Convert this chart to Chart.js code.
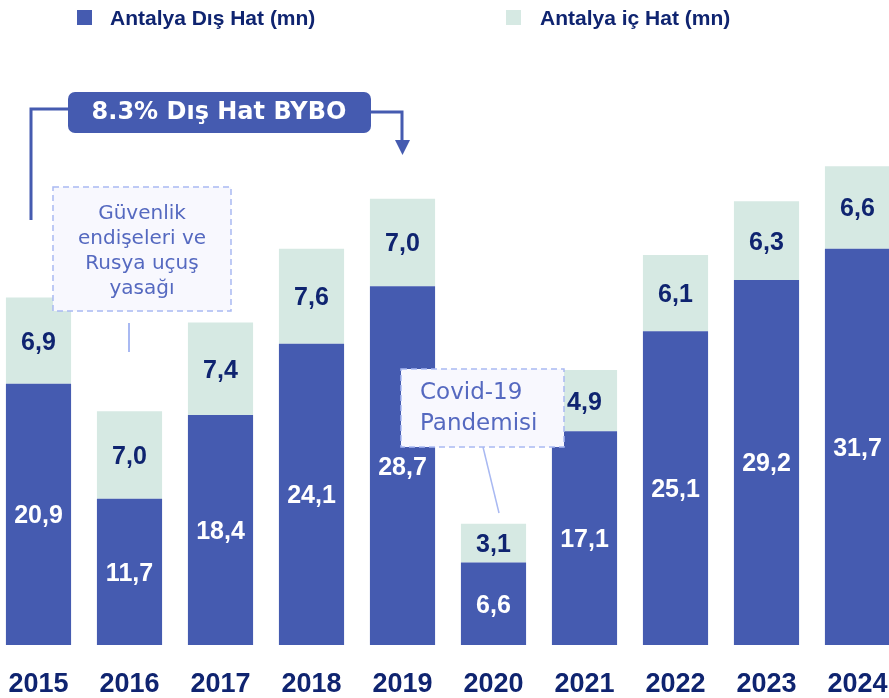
<!DOCTYPE html>
<html>
<head>
<meta charset="utf-8">
<script src="https://cdn.jsdelivr.net/npm/chart.js@4.4.1/dist/chart.umd.min.js"></script>
<style>
  html, body { margin: 0; padding: 0; background: #fff; overflow: hidden; }
  body { width: 889px; height: 698px; position: relative; }
  #chart { position: absolute; left: -7px; top: 0; }
</style>
</head>
<body>
<canvas id="chart" width="910" height="698"></canvas>
<script>
const years = ['2015', '2016', '2017', '2018', '2019', '2020', '2021', '2022', '2023', '2024'];
const disHat = [20.9, 11.7, 18.4, 24.1, 28.7, 6.6, 17.1, 25.1, 29.2, 31.7];
const icHat = [6.9, 7.0, 7.4, 7.6, 7.0, 3.1, 4.9, 6.1, 6.3, 6.6];
const legendNames = ['Antalya Dış Hat (mn)', 'Antalya iç Hat (mn)'];
const bybo = '8.3% Dış Hat BYBO';
const noteGuvenlik = ['Güvenlik', 'endişeleri ve', 'Rusya uçuş', 'yasağı'];
const noteCovid = ['Covid-19', 'Pandemisi'];

const DARK = '#455bb0';
const LIGHT = '#d6e9e3';
const NAVY = '#0f2470';
const FONT = '"DejaVu Sans", sans-serif';
const NUMFONT = '"Liberation Sans", Arial, sans-serif';

const fmt = (v) => v.toFixed(1).replace('.', ',');

// value labels centered inside each segment
const segLabels = {
    id: 'segLabels',
    afterDatasetsDraw(chart) {
        const ctx = chart.ctx;
        ctx.save();
        ctx.font = 'bold 25px ' + NUMFONT;
        ctx.textAlign = 'center';
        ctx.textBaseline = 'middle';
        chart.data.datasets.forEach((ds, di) => {
            chart.getDatasetMeta(di).data.forEach((bar, i) => {
                const mid = (bar.y + bar.base) / 2;
                ctx.fillStyle = di === 0 ? '#ffffff' : NAVY;
                ctx.fillText(fmt(ds.data[i]), bar.x, mid + 2);
            });
        });
        ctx.restore();
    }
};

function dashedBox(ctx, x, y, w, h) {
    ctx.save();
    ctx.fillStyle = '#f8f8fe';
    ctx.fillRect(x, y, w, h);
    ctx.setLineDash([6, 4]);
    ctx.strokeStyle = '#a9b9f2';
    ctx.lineWidth = 1.5;
    ctx.strokeRect(x, y, w, h);
    ctx.restore();
}

// legend, bracket and notes (page coordinates, canvas is shifted 7px left)
const extras = {
    id: 'extras',
    afterDraw(chart) {
        const ctx = chart.ctx;
        ctx.save();
        ctx.translate(7, 0);

        // legend
        ctx.font = 'bold 21px ' + NUMFONT;
        ctx.textBaseline = 'middle';
        ctx.textAlign = 'left';
        ctx.fillStyle = DARK;
        ctx.fillRect(77, 10, 15, 15);
        ctx.fillStyle = NAVY;
        ctx.fillText(legendNames[0], 110, 19);
        ctx.fillStyle = LIGHT;
        ctx.fillRect(506, 10, 15, 15);
        ctx.fillStyle = NAVY;
        ctx.fillText(legendNames[1], 540, 19);

        // bracket
        ctx.strokeStyle = DARK;
        ctx.lineWidth = 3;
        ctx.beginPath();
        ctx.moveTo(31, 220);
        ctx.lineTo(31, 109);
        ctx.lineTo(70, 109);
        ctx.stroke();
        ctx.beginPath();
        ctx.moveTo(370, 112);
        ctx.lineTo(402, 112);
        ctx.lineTo(402, 141);
        ctx.stroke();
        ctx.fillStyle = DARK;
        ctx.beginPath();
        ctx.moveTo(395, 140);
        ctx.lineTo(410, 140);
        ctx.lineTo(402.5, 155);
        ctx.closePath();
        ctx.fill();

        ctx.beginPath();
        ctx.roundRect(68, 92, 303, 41, 7);
        ctx.fill();
        ctx.fillStyle = '#ffffff';
        ctx.font = 'bold 24px ' + FONT;
        ctx.textAlign = 'center';
        ctx.fillText(bybo, 219, 113);

        // Güvenlik note
        dashedBox(ctx, 53, 187, 178, 124);
        ctx.fillStyle = '#5569c0';
        ctx.font = '20px ' + FONT;
        noteGuvenlik.forEach((t, i) => ctx.fillText(t, 142, 214 + i * 25));
        ctx.strokeStyle = '#a9b9f2';
        ctx.lineWidth = 2;
        ctx.beginPath();
        ctx.moveTo(129, 323);
        ctx.lineTo(129, 352);
        ctx.stroke();

        // Covid note
        dashedBox(ctx, 401, 369, 163, 78);
        ctx.fillStyle = '#5569c0';
        ctx.font = '23px ' + FONT;
        ctx.textAlign = 'left';
        noteCovid.forEach((t, i) => ctx.fillText(t, 420, 393 + i * 31));
        ctx.strokeStyle = '#a9b9f2';
        ctx.lineWidth = 1.5;
        ctx.beginPath();
        ctx.moveTo(483, 447);
        ctx.lineTo(499, 513);
        ctx.stroke();

        ctx.restore();
    }
};

new Chart(document.getElementById('chart'), {
    type: 'bar',
    data: {
        labels: years,
        datasets: [
            { label: legendNames[0], data: disHat, backgroundColor: DARK, borderWidth: 0 },
            { label: legendNames[1], data: icHat, backgroundColor: LIGHT, borderWidth: 0 }
        ]
    },
    options: {
        responsive: false,
        animation: false,
        datasets: { bar: { barPercentage: 0.716, categoryPercentage: 1 } },
        layout: { padding: { top: 145, bottom: 0, left: 0, right: 0 } },
        scales: {
            x: {
                stacked: true,
                grid: { display: false, drawTicks: false },
                border: { display: false },
                ticks: {
                    color: NAVY,
                    padding: 23,
                    maxRotation: 0,
                    font: { family: NUMFONT, weight: 'bold', size: 27 }
                },
                afterFit(scale) {
                    scale.height = 53;
                    scale.paddingLeft = 0;
                    scale.paddingRight = 0;
                }
            },
            y: {
                stacked: true,
                display: false,
                min: 0,
                max: 40
            }
        },
        plugins: {
            legend: { display: false },
            tooltip: { enabled: false }
        }
    },
    plugins: [segLabels, extras]
});
</script>
</body>
</html>
